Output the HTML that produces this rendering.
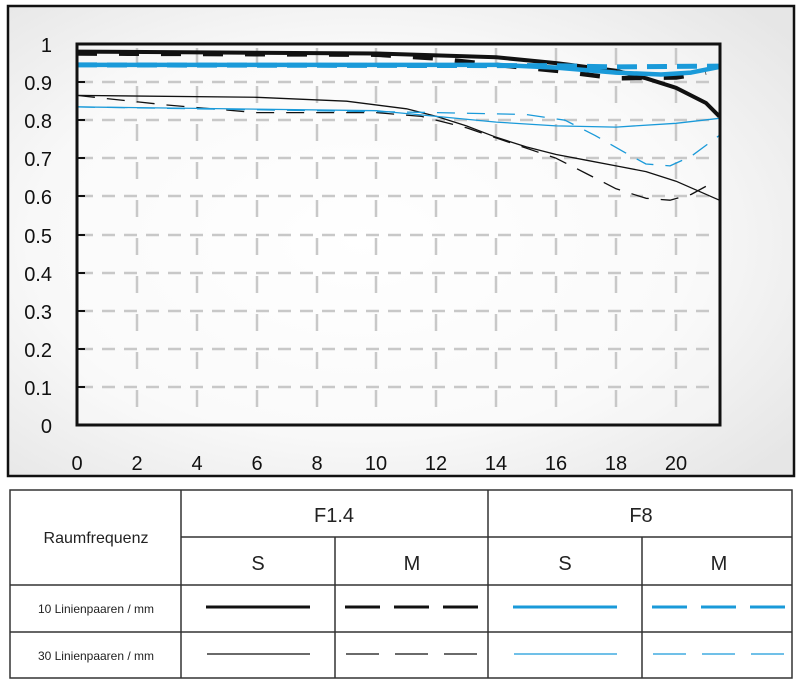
<!DOCTYPE html>
<html><head><meta charset="utf-8"><style>
body{margin:0;background:#fff;width:800px;height:685px;overflow:hidden;font-family:"Liberation Sans",sans-serif}
</style></head><body>
<svg width="800" height="685" viewBox="0 0 800 685" xmlns="http://www.w3.org/2000/svg" style="position:absolute;left:0;top:0">
<defs>
<radialGradient id="bg" cx="0.45" cy="0.5" r="0.7">
<stop offset="0" stop-color="#ffffff"/><stop offset="0.6" stop-color="#f8f8f8"/><stop offset="1" stop-color="#e6e6e6"/>
</radialGradient>
</defs>
<rect x="8" y="6" width="786" height="470" fill="url(#bg)" stroke="#111" stroke-width="2.5"/>
<rect x="77" y="44" width="643" height="381" fill="#fff" opacity="0.3"/>
<g stroke="#c8c8c8" stroke-width="2.5" stroke-dasharray="13 9" fill="none">
<line x1="80" x2="718" y1="387" y2="387"/><line x1="80" x2="718" y1="349" y2="349"/>
<line x1="80" x2="718" y1="311" y2="311"/><line x1="80" x2="718" y1="273" y2="273"/>
<line x1="80" x2="718" y1="235" y2="235"/><line x1="80" x2="718" y1="196" y2="196"/>
<line x1="80" x2="718" y1="158" y2="158"/><line x1="80" x2="718" y1="120" y2="120"/>
<line x1="80" x2="718" y1="82" y2="82"/>
</g>
<g stroke="#c8c8c8" stroke-width="2.5" stroke-dasharray="17 21" stroke-dashoffset="-4" fill="none">
<line x1="137" x2="137" y1="44" y2="425"/><line x1="197" x2="197" y1="44" y2="425"/>
<line x1="257" x2="257" y1="44" y2="425"/><line x1="317" x2="317" y1="44" y2="425"/>
<line x1="376" x2="376" y1="44" y2="425"/><line x1="436" x2="436" y1="44" y2="425"/>
<line x1="496" x2="496" y1="44" y2="425"/><line x1="556" x2="556" y1="44" y2="425"/>
<line x1="616" x2="616" y1="44" y2="425"/><line x1="676" x2="676" y1="44" y2="425"/>
</g>
<g stroke="#111" stroke-width="2">
<line x1="77" x2="85" y1="387" y2="387"/><line x1="77" x2="85" y1="349" y2="349"/><line x1="77" x2="85" y1="311" y2="311"/><line x1="77" x2="85" y1="273" y2="273"/><line x1="77" x2="85" y1="235" y2="235"/><line x1="77" x2="85" y1="196" y2="196"/><line x1="77" x2="85" y1="158" y2="158"/><line x1="77" x2="85" y1="120" y2="120"/><line x1="77" x2="85" y1="82" y2="82"/>
</g>
<g fill="none" stroke-linejoin="round" stroke-linecap="butt">
<polyline stroke="#111" stroke-width="1.3" points="77,95.4 256.7,97.3 346.6,101.2 406.5,108.8 436.4,116.4 466.4,125.9 496.3,137.3 526.3,146.9 556.2,154.5 586.2,160.2 616.1,165.9 646,171.6 676,181.2 719.4,200.2"/>
<polyline stroke="#111" stroke-width="1.3" stroke-dasharray="18 12" points="77,95.4 166.9,105 256.7,112.6 376.5,112.6 421.4,116.4 466.4,127.8 511.3,143.1 556.2,158.3 586.2,173.5 616.1,188.8 646,198.3 670,200.2 691,194.5 712,183"/>
<polyline stroke="#1a9ad9" stroke-width="1.3" points="77,106.9 376.5,110.7 436.4,116.4 496.3,122.1 556.2,125.9 616.1,127.1 676,123.3 719.4,118.3"/>
<polyline stroke="#1a9ad9" stroke-width="1.3" stroke-dasharray="18 12" points="77,106.9 436.4,112.6 526.3,114.5 565,120.2 595,135.4 625,152.6 646,164 670,165.9 691,156.4 719.4,135.4"/>
<polyline stroke="#111" stroke-width="4" points="77,51.6 376.5,53.5 496.3,57.3 556.2,63.1 616.1,70.7 646,78.3 676,87.8 706,103 719.4,116.4"/>
<polyline stroke="#111" stroke-width="4.5" stroke-dasharray="20 22" points="77,53.5 376.5,54.7 436.4,58.5 496.3,64.9 556.2,70.7 616.1,78.3 676,77.5 706,72.6"/>
<polyline stroke="#1a9ad9" stroke-width="4.5" points="77,64.9 496.3,64.9 556.2,67.6 616.1,72.6 661,74.5 691,72.6 719.4,66.9"/>
<polyline stroke="#1a9ad9" stroke-width="5" stroke-dasharray="20 10" points="77,64.9 556.2,65.7 616,66.9 719.4,66.1"/>
</g>
<rect x="77" y="44" width="643" height="381" fill="none" stroke="#111" stroke-width="3"/>
<g font-size="20" fill="#111" text-anchor="end">
<text x="52" y="52">1</text><text x="52" y="90">0.9</text><text x="52" y="128">0.8</text><text x="52" y="166">0.7</text><text x="52" y="204">0.6</text><text x="52" y="243">0.5</text><text x="52" y="281">0.4</text><text x="52" y="319">0.3</text><text x="52" y="357">0.2</text><text x="52" y="395">0.1</text><text x="52" y="433">0</text>
</g>
<g font-size="20" fill="#111" text-anchor="middle">
<text x="77" y="470">0</text><text x="137" y="470">2</text><text x="197" y="470">4</text><text x="257" y="470">6</text><text x="317" y="470">8</text><text x="376" y="470">10</text><text x="436" y="470">12</text><text x="496" y="470">14</text><text x="556" y="470">16</text><text x="616" y="470">18</text><text x="676" y="470">20</text>
</g>
<g stroke="#333" stroke-width="1.5" fill="none">
<rect x="10" y="490" width="782" height="188"/>
<line x1="181" x2="181" y1="490" y2="678"/>
<line x1="488" x2="488" y1="490" y2="678"/>
<line x1="335" x2="335" y1="537" y2="678"/>
<line x1="642" x2="642" y1="537" y2="678"/>
<line x1="181" x2="792" y1="537" y2="537"/>
<line x1="10" x2="792" y1="585" y2="585"/>
<line x1="10" x2="792" y1="632" y2="632"/>
</g>
<g fill="#222" text-anchor="middle">
<text x="96" y="543" font-size="16">Raumfrequenz</text>
<text x="334" y="522" font-size="20">F1.4</text>
<text x="641" y="522" font-size="20">F8</text>
<text x="258" y="570" font-size="20">S</text><text x="412" y="570" font-size="20">M</text>
<text x="565" y="570" font-size="20">S</text><text x="719" y="570" font-size="20">M</text>
<text x="96" y="613" font-size="12">10 Linienpaaren / mm</text>
<text x="96" y="660" font-size="12">30 Linienpaaren / mm</text>
</g>
<g fill="none">
<line x1="206" x2="310" y1="607" y2="607" stroke="#111" stroke-width="3"/>
<line x1="345" x2="480" y1="607" y2="607" stroke="#111" stroke-width="3" stroke-dasharray="35 14"/>
<line x1="513" x2="617" y1="607" y2="607" stroke="#1a9ad9" stroke-width="3"/>
<line x1="652" x2="787" y1="607" y2="607" stroke="#1a9ad9" stroke-width="3" stroke-dasharray="35 14"/>
<line x1="207" x2="310" y1="654" y2="654" stroke="#111" stroke-width="1.2"/>
<line x1="346" x2="479" y1="654" y2="654" stroke="#111" stroke-width="1.2" stroke-dasharray="33 16"/>
<line x1="514" x2="617" y1="654" y2="654" stroke="#1a9ad9" stroke-width="1.2"/>
<line x1="653" x2="786" y1="654" y2="654" stroke="#1a9ad9" stroke-width="1.2" stroke-dasharray="33 16"/>
</g>
</svg>
</body></html>
